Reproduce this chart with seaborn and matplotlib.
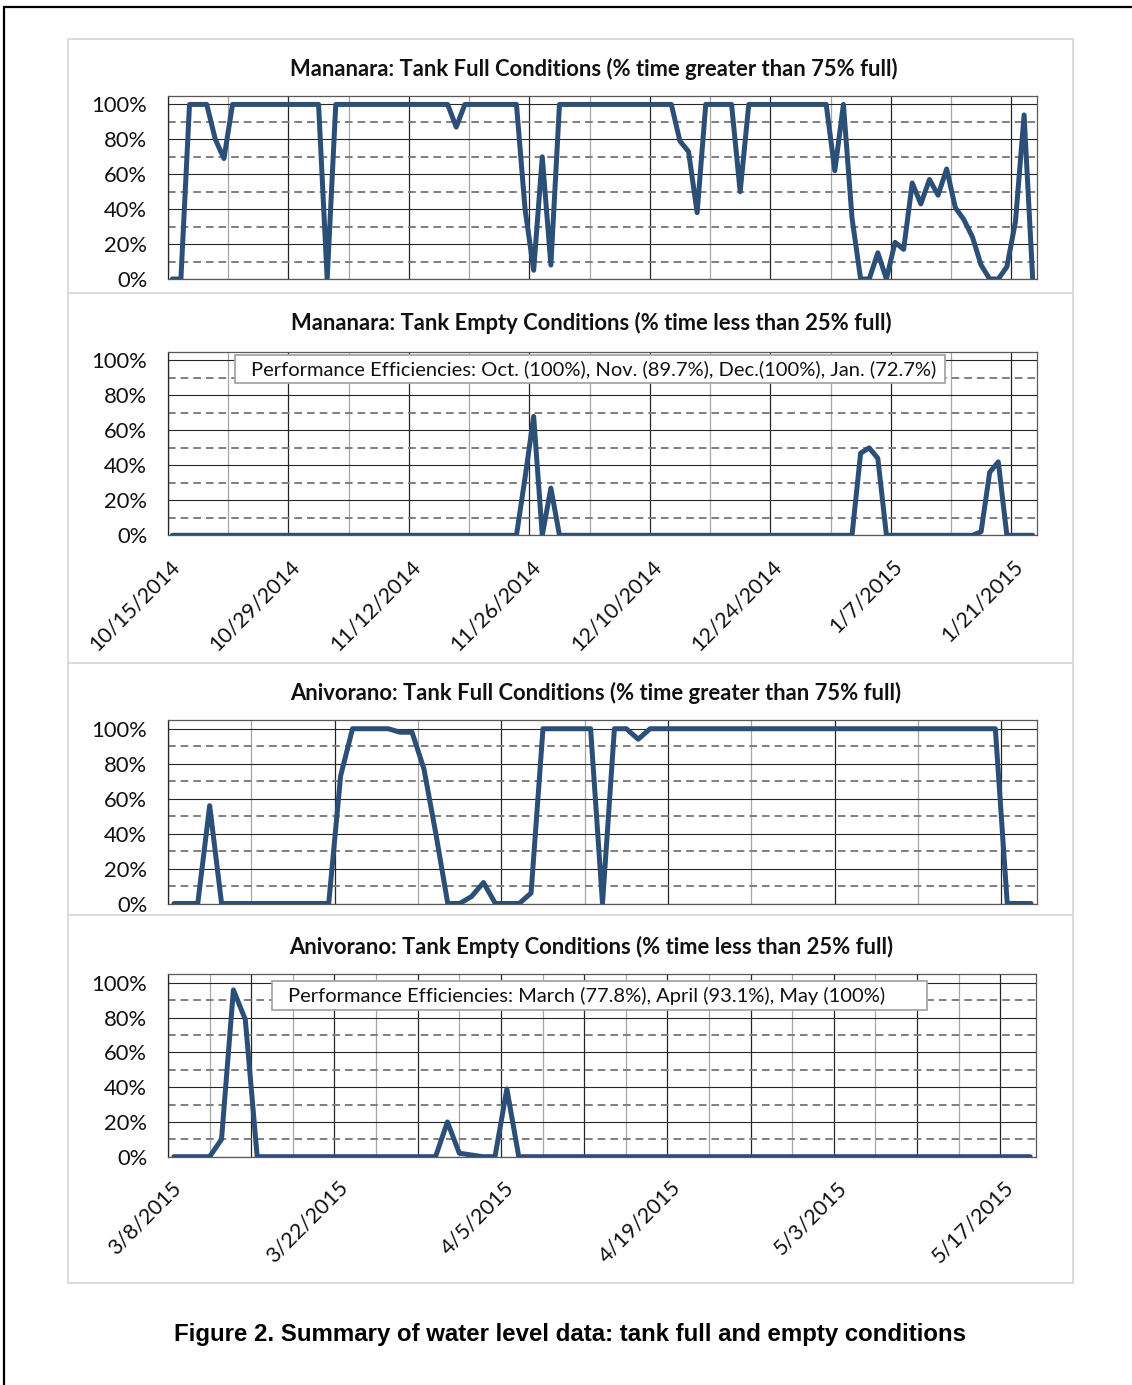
import pandas as pd
import seaborn as sns
import matplotlib.pyplot as plt
from matplotlib.lines import Line2D
from matplotlib.patches import Rectangle
from matplotlib.transforms import ScaledTranslation

W, H = 1132, 1385

# Mananara: daily % values starting 10/15/2014
mananara_start = "2014-10-15"
mananara_full = [0, 0, 100, 100, 100, 80, 69, 100, 100, 100,
                 100, 100, 100, 100, 100, 100, 100, 100, 0, 100,
                 100, 100, 100, 100, 100, 100, 100, 100, 100, 100,
                 100, 100, 100, 87, 100, 100, 100, 100, 100, 100,
                 100, 40, 5, 70, 8, 100, 100, 100, 100, 100,
                 100, 100, 100, 100, 100, 100, 100, 100, 100, 79,
                 73, 38, 100, 100, 100, 100, 50, 100, 100, 100,
                 100, 100, 100, 100, 100, 100, 100, 62, 100, 35,
                 0, 0, 15, 0, 21, 17, 55, 43, 57, 48,
                 63, 41, 34, 24, 8, 0, 0, 7, 33, 94,
                 0]
mananara_empty = [0, 0, 0, 0, 0, 0, 0, 0, 0, 0,
                  0, 0, 0, 0, 0, 0, 0, 0, 0, 0,
                  0, 0, 0, 0, 0, 0, 0, 0, 0, 0,
                  0, 0, 0, 0, 0, 0, 0, 0, 0, 0,
                  0, 33, 68, 0, 27, 0, 0, 0, 0, 0,
                  0, 0, 0, 0, 0, 0, 0, 0, 0, 0,
                  0, 0, 0, 0, 0, 0, 0, 0, 0, 0,
                  0, 0, 0, 0, 0, 0, 0, 0, 0, 0,
                  47, 50, 44, 0, 0, 0, 0, 0, 0, 0,
                  0, 0, 0, 0, 2, 36, 42, 0, 0, 0,
                  0]
mananara_ticks = ["2014-10-15", "2014-10-29", "2014-11-12", "2014-11-26",
                  "2014-12-10", "2014-12-24", "2015-01-07", "2015-01-21"]
mananara_note = ("Performance Efficiencies: Oct. (100%), Nov. (89.7%), "
                 "Dec.(100%), Jan. (72.7%)")

# Anivorano: daily % values starting 3/8/2015
anivorano_start = "2015-03-08"
anivorano_full = [0, 0, 0, 56, 0, 0, 0, 0, 0, 0,
                  0, 0, 0, 0, 73, 100, 100, 100, 100, 98,
                  98, 77, 40, 0, 0, 4, 12, 0, 0, 0,
                  6, 100, 100, 100, 100, 100, 0, 100, 100, 94,
                  100, 100, 100, 100, 100, 100, 100, 100, 100, 100,
                  100, 100, 100, 100, 100, 100, 100, 100, 100, 100,
                  100, 100, 100, 100, 100, 100, 100, 100, 100, 100,
                  0, 0, 0]
anivorano_empty = [0, 0, 0, 0, 10, 96, 79, 0, 0, 0,
                   0, 0, 0, 0, 0, 0, 0, 0, 0, 0,
                   0, 0, 0, 20, 2, 1, 0, 0, 39, 0,
                   0, 0, 0, 0, 0, 0, 0, 0, 0, 0,
                   0, 0, 0, 0, 0, 0, 0, 0, 0, 0,
                   0, 0, 0, 0, 0, 0, 0, 0, 0, 0,
                   0, 0, 0, 0, 0, 0, 0, 0, 0, 0,
                   0, 0, 0]
anivorano_ticks = ["2015-03-08", "2015-03-22", "2015-04-05",
                   "2015-04-19", "2015-05-03", "2015-05-17"]
anivorano_note = "Performance Efficiencies: March (77.8%), April (93.1%), May (100%)"

titles = ["Mananara: Tank Full Conditions (% time greater than 75% full)",
          "Mananara: Tank Empty Conditions (% time less than 25% full)",
          "Anivorano: Tank Full Conditions (% time greater than 75% full)",
          "Anivorano: Tank Empty Conditions (% time less than 25% full)"]
caption = "Figure 2. Summary of water level data: tank full and empty conditions"

y_major = [0, 20, 40, 60, 80, 100]
y_minor = [10, 30, 50, 70, 90]

LINE = "#2c4f78"
DARK = "#262626"
LIGHT = "#a6a6a6"

sns.set_style("white")
plt.rcParams['font.family'] = ['Lato', 'DejaVu Sans']
plt.rcParams['lines.scale_dashes'] = False

fig = plt.figure(figsize=(W / 100, H / 100), dpi=100)


def px_rect(left, top, right, bottom):
    return [left / W, 1 - bottom / H, (right - left) / W, (bottom - top) / H]


def panel(box, start, values, ticks, show_labels, grid_hours, title, title_x, title_y):
    ax = fig.add_axes(px_rect(*box))
    dates = pd.date_range(start, periods=len(values), freq="D")
    df = pd.DataFrame({"date": dates, "pct": values})
    sns.lineplot(data=df, x="date", y="pct", ax=ax, color=LINE, lw=3.6,
                 solid_joinstyle="round", solid_capstyle="round", zorder=5)
    lo = dates[0] - pd.Timedelta(hours=12)
    hi = dates[-1] + pd.Timedelta(hours=12)
    ax.set_xlim(lo, hi)
    ax.set_ylim(0, 105)

    for i, t in enumerate(pd.date_range(lo, hi, freq=f"{grid_hours}h")):
        ax.axvline(t, color=DARK if i % 2 == 0 else LIGHT, lw=0.9, zorder=1)
    for v in y_major:
        ax.axhline(v, color=DARK, lw=0.8, zorder=2)
    for v in y_minor:
        ax.axhline(v, color="#7f7f7f", lw=1.4, dashes=(5.5, 3.6), zorder=2)

    ax.set_yticks(y_major)
    ax.set_yticklabels([f"{v}%" for v in y_major])
    ax.tick_params(axis="y", length=0, pad=15, labelsize=15.8, labelcolor="#111111")
    tick_dates = pd.to_datetime(ticks)
    ax.set_xticks(tick_dates)
    ax.tick_params(axis="x", length=0, pad=20, labelsize=15.5, labelcolor="#111111")
    if show_labels:
        ax.set_xticklabels([f"{d.month}/{d.day}/{d.year}" for d in tick_dates],
                           rotation=45, ha="right", va="center",
                           rotation_mode="anchor")
        for lab in ax.get_xticklabels():
            lab.set_transform(lab.get_transform() +
                              ScaledTranslation(4 / 100, 0, fig.dpi_scale_trans))
    else:
        ax.set_xticklabels([])
    ax.set_xlabel("")
    ax.set_ylabel("")
    for s in ax.spines.values():
        s.set_color("#595959")
        s.set_linewidth(0.9)
    ax.spines["left"].set_color(DARK)
    fig.text(title_x / W, 1 - title_y / H, title, ha="center", va="center",
             fontsize=15.8, fontweight="bold", color="#111111")
    return ax


panel((168, 95.7, 1037, 279), mananara_start, mananara_full, mananara_ticks,
      False, 168, titles[0], 594, 69)
panel((168, 351.7, 1037, 535.3), mananara_start, mananara_empty, mananara_ticks,
      True, 168, titles[1], 591, 323)
panel((168, 720, 1037, 903.5), anivorano_start, anivorano_full, anivorano_ticks,
      False, 168, titles[2], 596, 693)
panel((168, 974.3, 1036, 1156.7), anivorano_start, anivorano_empty, anivorano_ticks,
      True, 84, titles[3], 591, 947)


def note_box(x0, y0, x1, y1, text):
    fig.add_artist(Rectangle((x0 / W, 1 - y1 / H), (x1 - x0) / W, (y1 - y0) / H,
                             transform=fig.transFigure, fc="white", ec="#a6a6a6",
                             lw=1.3, zorder=5))
    fig.text((x0 + 16) / W, 1 - (y0 + y1) / 2 / H, text, ha="left", va="center",
             fontsize=14.5, color="#111111", zorder=6)


note_box(235, 355, 945, 383, mananara_note)
note_box(272, 981, 927, 1010, anivorano_note)

# chart frames
fig.add_artist(Rectangle((67.7 / W, 1 - 1283 / H), (1072.5 - 67.7) / W, (1283 - 39) / H,
                         transform=fig.transFigure, fill=False, ec="#d9d9d9", lw=1.3))
for y in [293, 663, 915]:
    fig.add_artist(Line2D([67.7 / W, 1072.5 / W], [1 - y / H, 1 - y / H],
                          transform=fig.transFigure, color="#d9d9d9", lw=1.3))

# outer page border
fig.add_artist(Line2D([4 / W, 1], [1 - 6.5 / H, 1 - 6.5 / H],
                      transform=fig.transFigure, color="black", lw=1.6))
fig.add_artist(Line2D([4 / W, 4 / W], [0, 1 - 6.5 / H],
                      transform=fig.transFigure, color="black", lw=1.6))

fig.text(570 / W, 1 - 1335 / H, caption, ha="center", va="center",
         fontsize=17.3, fontweight="bold", family="Liberation Sans", color="black")

fig.savefig("out.png", dpi=100)
